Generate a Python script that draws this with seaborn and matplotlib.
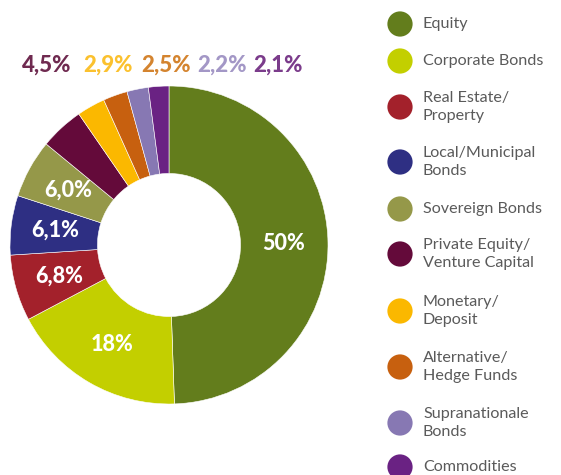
import matplotlib
matplotlib.use("Agg")
import matplotlib.pyplot as plt
import seaborn as sns
import numpy as np

sns.set_theme(style="white")
plt.rcParams['font.family'] = ['Lato', 'DejaVu Sans']

categories = ["Equity", "Corporate Bonds", "Real Estate/\nProperty", "Local/Municipal\nBonds",
              "Sovereign Bonds", "Private Equity/\nVenture Capital", "Monetary/\nDeposit",
              "Alternative/\nHedge Funds", "Supranationale\nBonds", "Commodities"]
values = [50, 18, 6.8, 6.1, 6.0, 4.5, 2.9, 2.5, 2.2, 2.1]
value_labels = ["50%", "18%", "6,8%", "6,1%", "6,0%", "4,5%", "2,9%", "2,5%", "2,2%", "2,1%"]
colors = ["#637d1c", "#c3cf00", "#a3212b", "#2e2f83", "#959849", "#640a3a",
          "#fbb800", "#c7600f", "#8778b3", "#6a2283"]
top_label_colors = ["#6f2a50", "#fbc12e", "#d4842f", "#a397c6", "#7b3c8b"]

W, H = 561, 475
fig = plt.figure(figsize=(W / 100, H / 100), dpi=100)

cx, cy, R = 169, 245, 159
ax = fig.add_axes([(cx - R) / W, (H - cy - R) / H, 2 * R / W, 2 * R / H])
wedges, _ = ax.pie(values, colors=colors, startangle=90, counterclock=False,
                   radius=1.0, wedgeprops=dict(width=0.55, edgecolor="white", linewidth=0.4))
ax.set_xlim(-1, 1)
ax.set_ylim(-1, 1)
ax.set_aspect("equal")
ax.axis("off")

# inner labels for the big slices
for w, lab in zip(wedges[:5], value_labels[:5]):
    ang = np.deg2rad((w.theta1 + w.theta2) / 2)
    r = 0.72
    ax.text(r * np.cos(ang), r * np.sin(ang), lab, ha="center", va="center",
            color="white", fontsize=15.5, fontweight="black")

# small slice labels on top row
xs = [47, 108, 166, 222, 278]
for x, lab, c in zip(xs, value_labels[5:], top_label_colors):
    fig.text(x / W, 1 - 65 / H, lab, ha="center", va="center", color=c,
             fontsize=16, fontweight="black")

# legend
legend_y = [24, 61, 107, 162, 209, 254, 311, 367, 423, 467]
lax = fig.add_axes([0, 0, 1, 1], facecolor="none")
lax.set_xlim(0, W)
lax.set_ylim(H, 0)
lax.axis("off")
for y, lab, c in zip(legend_y, categories, colors):
    lax.scatter([400], [y], s=330, color=c, edgecolor="none", zorder=3)
    lax.text(423, y, lab, ha="left", va="center", fontsize=11.6, color="#5a5a5a",
             linespacing=1.32)

fig.savefig("out.png", dpi=100)
